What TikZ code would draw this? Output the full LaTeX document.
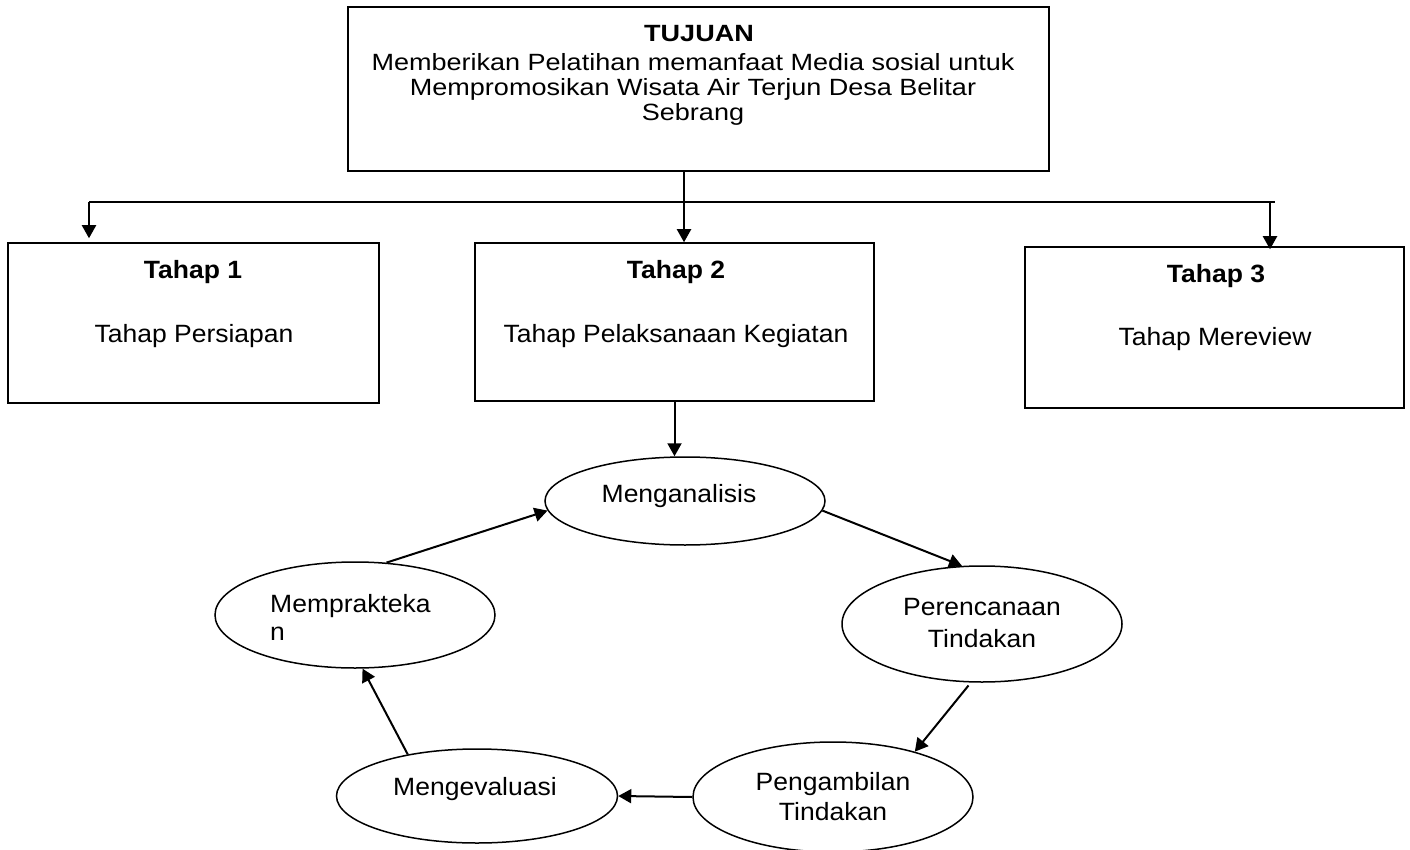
\documentclass[tikz,border=0pt]{standalone}
\usepackage{fontspec}
\setmainfont{Liberation Sans}
\newfontfamily\topfont[FakeStretch=1.15]{Liberation Sans}
\newfontfamily\bodyfont[FakeStretch=1.06]{Liberation Sans}
\usetikzlibrary{arrows.meta,shapes.geometric,calc}
\begin{document}
\begin{tikzpicture}[x=1pt,y=-1pt,
  txt/.style={font=\bodyfont\fontsize{25}{30}\selectfont, inner sep=0pt, anchor=base},
  btxt/.style={txt, font=\bodyfont\fontsize{25}{30}\selectfont\bfseries},
  ttxt/.style={txt, font=\topfont\fontsize{23.5}{25}\selectfont},
  tbtxt/.style={txt, font=\topfont\fontsize{23.5}{25}\selectfont\bfseries},
  ltxt/.style={txt, anchor=base west},
  boxnode/.style={draw, line width=1.5pt, rectangle, inner sep=0pt},
  ellnode/.style={draw, line width=1.5pt, ellipse, inner sep=0pt},
  arr/.style={-{Triangle[length=13pt,width=14pt]}, line width=2pt},
  plain/.style={line width=2pt}
]
\useasboundingbox (0,0) rectangle (1410,850);
\fill[white] (0,0) rectangle (1410,850);

% boxes
\node[boxnode, minimum width=701pt, minimum height=164pt] (top) at (698.5,89) {};
\node[boxnode, minimum width=371pt, minimum height=160pt] (t1) at (193.5,323) {};
\node[boxnode, minimum width=399pt, minimum height=158pt] (t2) at (674.5,322) {};
\node[boxnode, minimum width=379pt, minimum height=161pt] (t3) at (1214.5,327.5) {};

% box texts
\node[tbtxt] (topa) at (699,42) {TUJUAN};
\node[ttxt] (topb) at (693,71) {Memberikan Pelatihan memanfaat Media sosial untuk};
\node[ttxt] (topc) at (693,96) {Mempromosikan Wisata Air Terjun Desa Belitar};
\node[ttxt] (topd) at (693,121) {Sebrang};

\node[btxt] (t1a) at (193,279) {Tahap 1};
\node[txt] (t1b) at (194,342) {Tahap Persiapan};
\node[btxt] (t2a) at (676,279) {Tahap 2};
\node[txt] (t2b) at (676,342) {Tahap Pelaksanaan Kegiatan};
\node[btxt] (t3a) at (1216,282) {Tahap 3};
\node[txt] (t3b) at (1215,345) {Tahap Mereview};

% ellipses
\node[ellnode, minimum width=280pt, minimum height=88pt] (mengan) at (685,501) {};
\node[ellnode, minimum width=280pt, minimum height=116pt] (peren) at (982,624) {};
\node[ellnode, minimum width=280pt, minimum height=110pt] (peng) at (833,797) {};
\node[ellnode, minimum width=281pt, minimum height=94pt] (mengev) at (477,796) {};
\node[ellnode, minimum width=280pt, minimum height=106pt] (mempr) at (355,615) {};

% ellipse texts
\node[txt] (mengant) at (679,502) {Menganalisis};
\node[txt] (perena) at (982,615) {Perencanaan};
\node[txt] (perenb) at (982,647) {Tindakan};
\node[txt] (penga) at (833,790) {Pengambilan};
\node[txt] (pengb) at (833,820) {Tindakan};
\node[txt] (mengevt) at (475,795) {Mengevaluasi};
\node[ltxt] (mempra) at (270,612) {Memprakteka};
\node[ltxt] (memprb) at (270,640) {n};

% top connectors
\coordinate (jL) at (89,202);
\coordinate (jM) at (684,202);
\coordinate (jR) at (1275,202);
\coordinate (aR) at (1270,202);
\draw[line width=1.2pt] (top.south -| jM) -- (jM);
\draw[plain] (jL) -- (jR);
\draw[arr, shorten >=4pt] (jL) -- (jL |- t1.north);
\draw[arr] (jM) -- (jM |- t2.north);
\draw[arr, shorten >=-3pt] (aR) -- (aR |- t3.north);

% cycle connectors
\draw[arr] (t2.south) -- (t2.south |- mengan.north);
\draw[arr] (mengan.-4.5) -- (peren.109);
\draw[arr] ($(peren.257)+(0,3)$) -- (peng.29);
\draw[arr] (peng.west) -- (mengev.east);
\draw[arr] (mengev.149) -- (mempr.-82);
\draw[arr] (mempr.59.5) -- (mengan.184.6);
\end{tikzpicture}
\end{document}
